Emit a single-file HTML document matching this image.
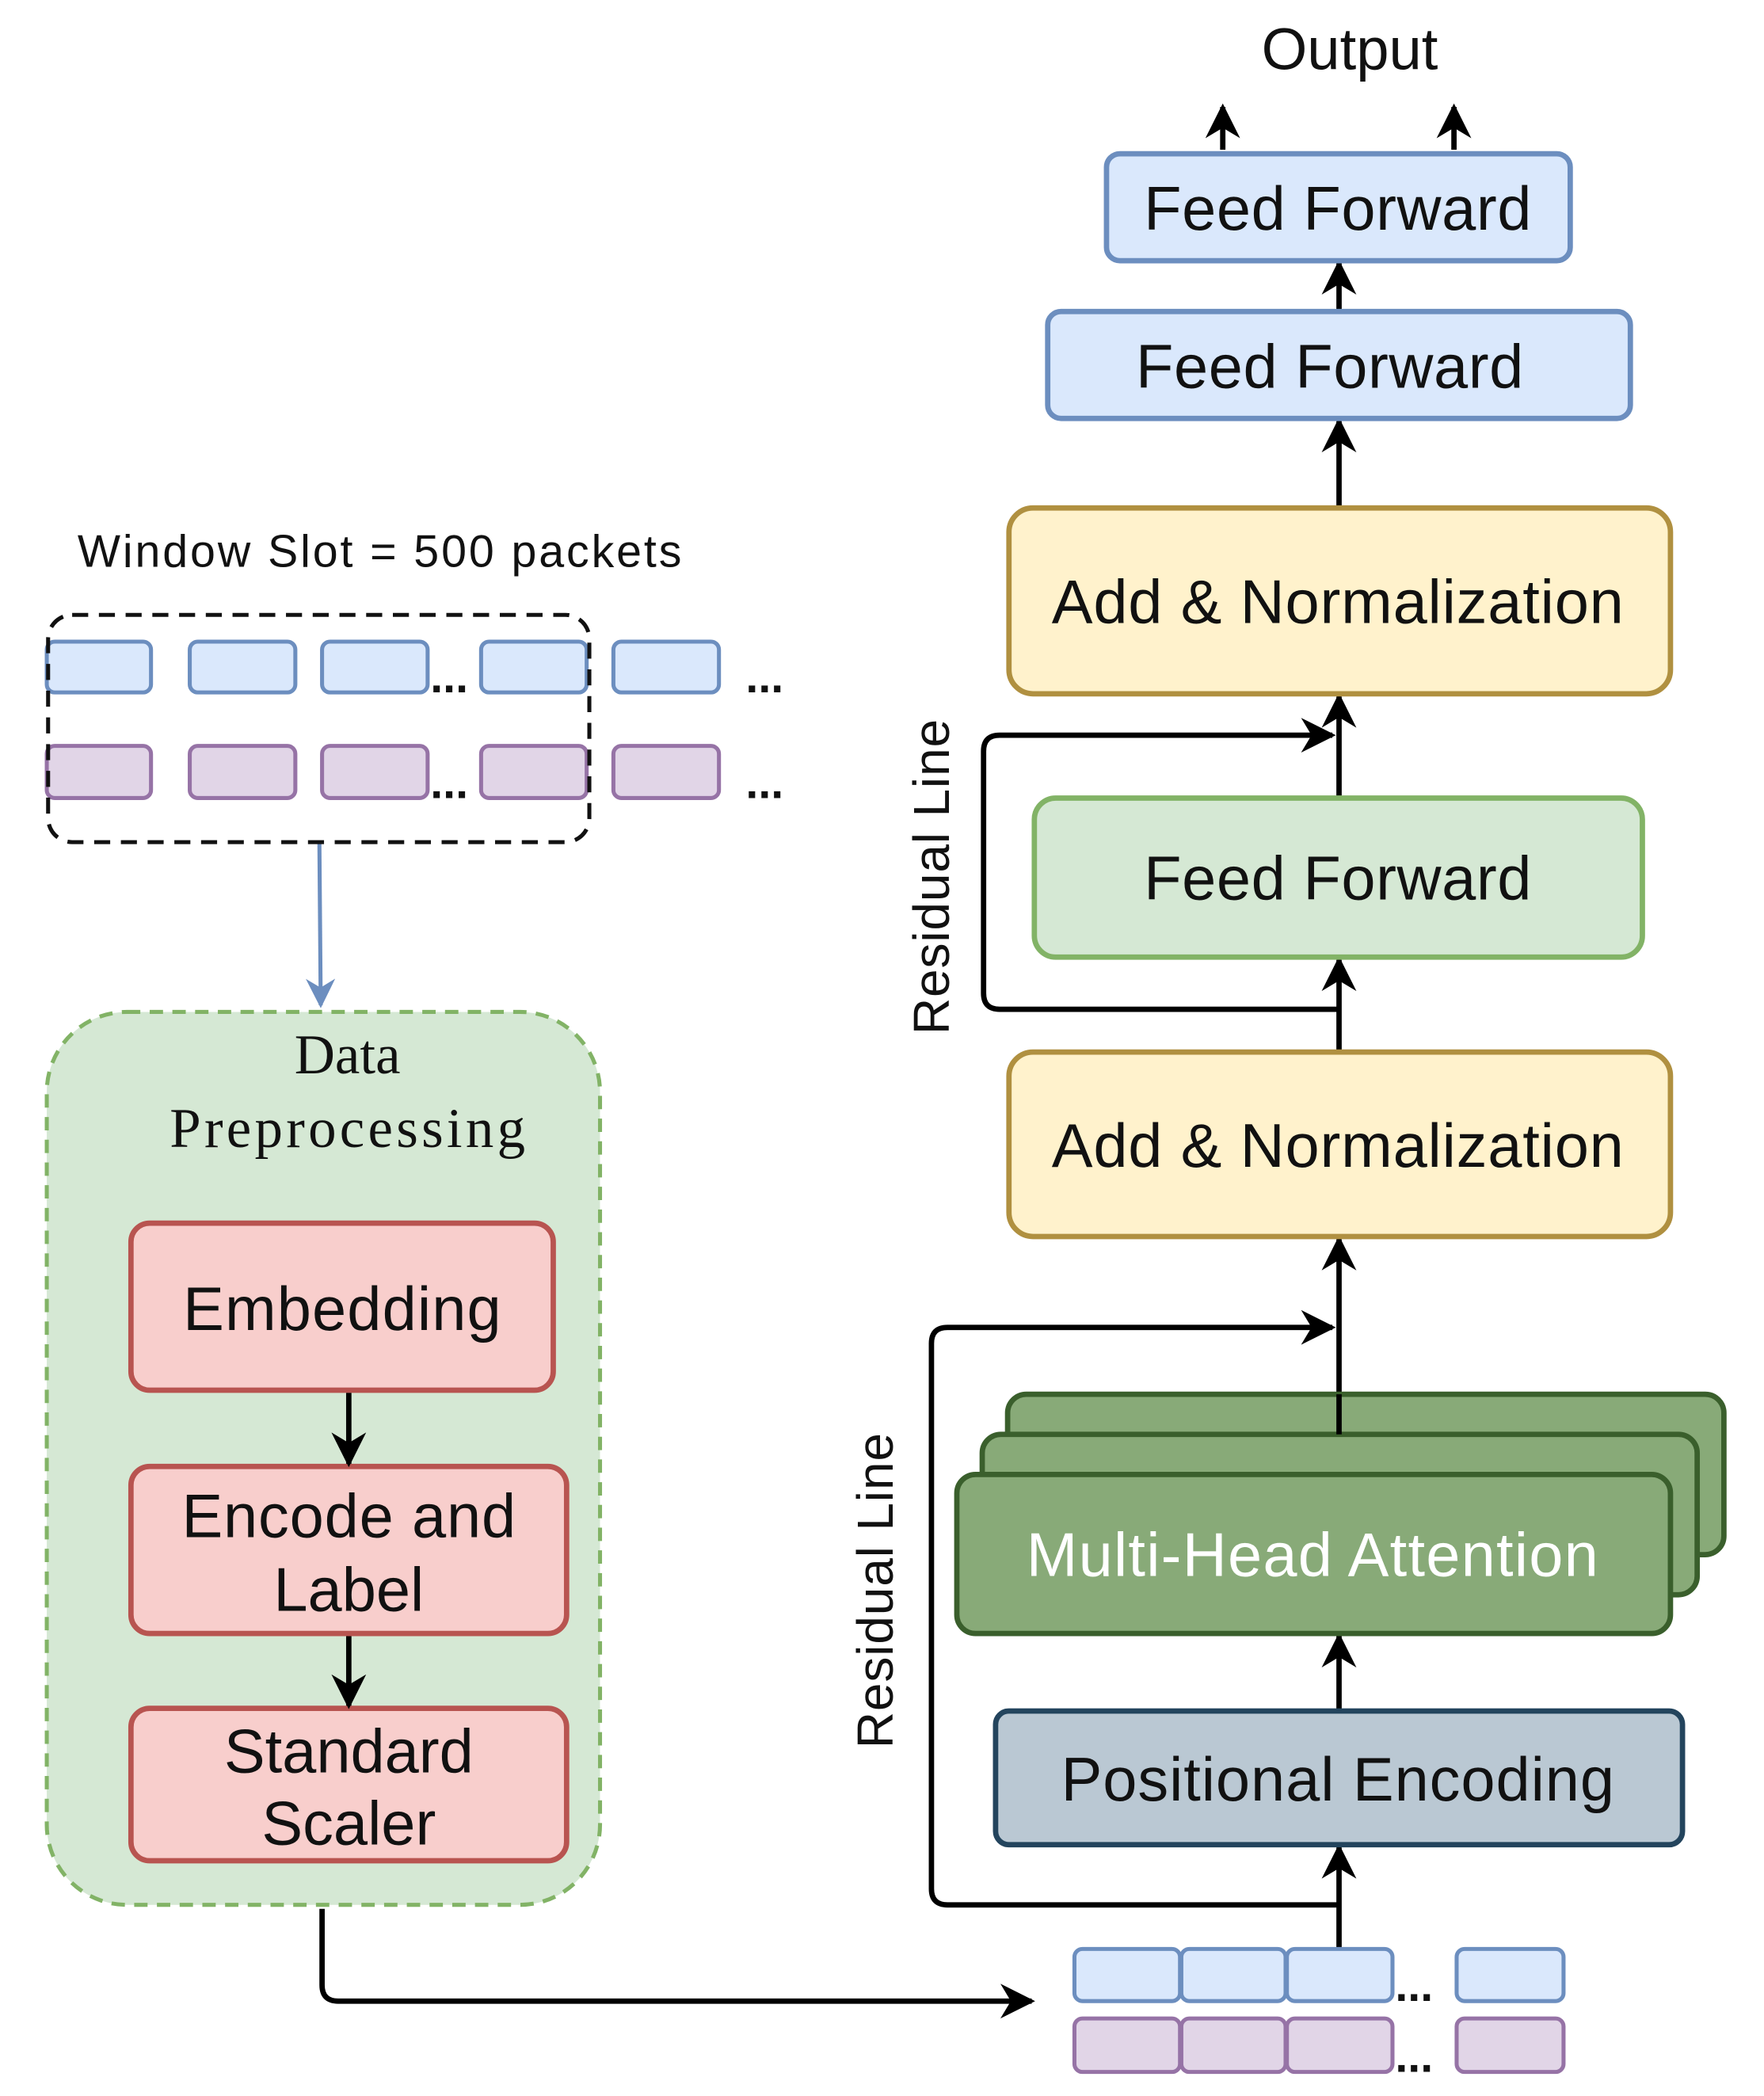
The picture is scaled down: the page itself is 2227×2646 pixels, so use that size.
<!DOCTYPE html>
<html><head><meta charset="utf-8"><style>html,body{margin:0;padding:0;background:#fff}svg{display:block}</style></head><body>
<svg width="2227" height="2646" viewBox="0 0 1320 1568" preserveAspectRatio="none" xmlns="http://www.w3.org/2000/svg" font-family="Liberation Sans, Arial, sans-serif">
<defs>
<marker id="ahL" viewBox="0 0 10 10" refX="9" refY="5" markerWidth="26" markerHeight="26" markerUnits="userSpaceOnUse" orient="auto"><path d="M0,0 L10,5 L0,10 L3,5 Z" fill="#000"/></marker>
<marker id="ahB" viewBox="0 0 10 10" refX="9" refY="5" markerWidth="22" markerHeight="22" markerUnits="userSpaceOnUse" orient="auto"><path d="M0,0 L10,5 L0,10 L3,5 Z" fill="#6c8ebf"/></marker>
</defs>
<g stroke="#000" stroke-width="4" fill="none">
<line x1="915" y1="112" x2="915" y2="80" marker-end="url(#ahL)"/>
<line x1="1088" y1="112" x2="1088" y2="80" marker-end="url(#ahL)"/>
<line x1="1002" y1="233" x2="1002" y2="197" marker-end="url(#ahL)"/>
<line x1="1002" y1="380" x2="1002" y2="315" marker-end="url(#ahL)"/>
<line x1="1002" y1="597" x2="1002" y2="521" marker-end="url(#ahL)"/>
<line x1="1002" y1="787" x2="1002" y2="718" marker-end="url(#ahL)"/>
<path d="M1002,755 L748,755 Q736,755 736,743 L736,562 Q736,550 748,550 L997,550" marker-end="url(#ahL)"/>
<line x1="1002" y1="1073" x2="1002" y2="927" marker-end="url(#ahL)"/>
<path d="M1002,1425 L709,1425 Q697,1425 697,1413 L697,1005 Q697,993 709,993 L997,993" marker-end="url(#ahL)"/>
<line x1="1002" y1="1280" x2="1002" y2="1224" marker-end="url(#ahL)"/>
<line x1="1002" y1="1458" x2="1002" y2="1382" marker-end="url(#ahL)"/>
<path d="M241,1428 L241,1485 Q241,1497 253,1497 L772,1497" marker-end="url(#ahL)"/>
</g>
<line x1="239" y1="630" x2="240" y2="752" stroke="#6c8ebf" stroke-width="3" marker-end="url(#ahB)"/>

<text x="1010" y="52" font-size="44" text-anchor="middle" fill="#111">Output</text>

<rect x="828" y="115" width="347" height="80" rx="10" fill="#dae8fc" stroke="#6c8ebf" stroke-width="4"/>
<text x="1001" y="172" font-size="46" text-anchor="middle" fill="#111" textLength="290">Feed Forward</text>
<rect x="784" y="233" width="436" height="80" rx="10" fill="#dae8fc" stroke="#6c8ebf" stroke-width="4"/>
<text x="995" y="290" font-size="46" text-anchor="middle" fill="#111" textLength="290">Feed Forward</text>

<rect x="755" y="380" width="495" height="139" rx="18" fill="#fff2cc" stroke="#b09040" stroke-width="4"/>
<text x="1001" y="466" font-size="46" text-anchor="middle" fill="#111" textLength="428">Add &amp; Normalization</text>

<rect x="774" y="597" width="455" height="119" rx="16" fill="#d5e8d4" stroke="#82b366" stroke-width="4"/>
<text x="1001" y="673" font-size="46" text-anchor="middle" fill="#111" textLength="290">Feed Forward</text>

<rect x="755" y="787" width="495" height="138" rx="18" fill="#fff2cc" stroke="#b09040" stroke-width="4"/>
<text x="1001" y="873" font-size="46" text-anchor="middle" fill="#111" textLength="428">Add &amp; Normalization</text>

<text transform="translate(710,656) rotate(-90)" font-size="38" text-anchor="middle" fill="#111" textLength="236">Residual Line</text>
<text transform="translate(668,1190) rotate(-90)" font-size="38" text-anchor="middle" fill="#111" textLength="236">Residual Line</text>

<rect x="754" y="1043" width="536" height="120" rx="14" fill="#88aa78" stroke="#3a5f2c" stroke-width="4"/>
<rect x="735" y="1073" width="535" height="120" rx="14" fill="#88aa78" stroke="#3a5f2c" stroke-width="4"/>
<rect x="716" y="1103" width="534" height="119" rx="14" fill="#88aa78" stroke="#3a5f2c" stroke-width="4"/>
<line x1="1002" y1="1043" x2="1002" y2="1073" stroke="#000" stroke-width="4"/>
<text x="982" y="1179" font-size="46" text-anchor="middle" fill="#fff" textLength="428">Multi-Head Attention</text>

<rect x="745" y="1280" width="514" height="100" rx="10" fill="#bac8d3" stroke="#23445d" stroke-width="4"/>
<text x="1001" y="1347" font-size="46" text-anchor="middle" fill="#111" textLength="414">Positional Encoding</text>

<g stroke-width="3">
<rect x="804" y="1458" width="79" height="39" rx="6" fill="#dae8fc" stroke="#6c8ebf"/>
<rect x="884" y="1458" width="78" height="39" rx="6" fill="#dae8fc" stroke="#6c8ebf"/>
<rect x="963" y="1458" width="79" height="39" rx="6" fill="#dae8fc" stroke="#6c8ebf"/>
<rect x="1090" y="1458" width="80" height="39" rx="6" fill="#dae8fc" stroke="#6c8ebf"/>
<rect x="804" y="1510" width="79" height="40" rx="6" fill="#e1d5e7" stroke="#9673a6"/>
<rect x="884" y="1510" width="78" height="40" rx="6" fill="#e1d5e7" stroke="#9673a6"/>
<rect x="963" y="1510" width="79" height="40" rx="6" fill="#e1d5e7" stroke="#9673a6"/>
<rect x="1090" y="1510" width="80" height="40" rx="6" fill="#e1d5e7" stroke="#9673a6"/>
</g>
<text x="1044" y="1497" font-size="34" font-weight="bold" fill="#111">...</text>
<text x="1044" y="1550" font-size="34" font-weight="bold" fill="#111">...</text>

<text x="58" y="424" font-size="34" fill="#111" textLength="452">Window Slot = 500 packets</text>
<g stroke-width="3">
<rect x="35" y="480" width="78" height="38" rx="6" fill="#dae8fc" stroke="#6c8ebf"/>
<rect x="142" y="480" width="79" height="38" rx="6" fill="#dae8fc" stroke="#6c8ebf"/>
<rect x="241" y="480" width="79" height="38" rx="6" fill="#dae8fc" stroke="#6c8ebf"/>
<rect x="360" y="480" width="79" height="38" rx="6" fill="#dae8fc" stroke="#6c8ebf"/>
<rect x="459" y="480" width="79" height="38" rx="6" fill="#dae8fc" stroke="#6c8ebf"/>
<rect x="35" y="558" width="78" height="39" rx="6" fill="#e1d5e7" stroke="#9673a6"/>
<rect x="142" y="558" width="79" height="39" rx="6" fill="#e1d5e7" stroke="#9673a6"/>
<rect x="241" y="558" width="79" height="39" rx="6" fill="#e1d5e7" stroke="#9673a6"/>
<rect x="360" y="558" width="79" height="39" rx="6" fill="#e1d5e7" stroke="#9673a6"/>
<rect x="459" y="558" width="79" height="39" rx="6" fill="#e1d5e7" stroke="#9673a6"/>
</g>
<rect x="36" y="460" width="405" height="170" rx="18" fill="none" stroke="#111" stroke-width="3" stroke-dasharray="12,8"/>
<text x="322" y="518" font-size="34" font-weight="bold" fill="#111">...</text>
<text x="322" y="597" font-size="34" font-weight="bold" fill="#111">...</text>
<text x="558" y="518" font-size="34" font-weight="bold" fill="#111">...</text>
<text x="558" y="597" font-size="34" font-weight="bold" fill="#111">...</text>

<rect x="35" y="757" width="414" height="668" rx="60" fill="#d5e8d4" stroke="#82b366" stroke-width="3" stroke-dasharray="10,7"/>
<text x="260" y="803" font-size="42" text-anchor="middle" fill="#111" font-family="Liberation Serif, serif">Data</text>
<text x="260" y="858" font-size="42" text-anchor="middle" fill="#111" font-family="Liberation Serif, serif" textLength="266">Preprocessing</text>

<rect x="98" y="915" width="316" height="125" rx="14" fill="#f8cecc" stroke="#b85450" stroke-width="4"/>
<text x="256" y="995" font-size="46" text-anchor="middle" fill="#111" textLength="238">Embedding</text>
<rect x="98" y="1097" width="326" height="125" rx="14" fill="#f8cecc" stroke="#b85450" stroke-width="4"/>
<text x="261" y="1150" font-size="46" text-anchor="middle" fill="#111" textLength="250">Encode and</text>
<text x="261" y="1205" font-size="46" text-anchor="middle" fill="#111">Label</text>
<rect x="98" y="1278" width="326" height="114" rx="14" fill="#f8cecc" stroke="#b85450" stroke-width="4"/>
<text x="261" y="1326" font-size="46" text-anchor="middle" fill="#111">Standard</text>
<text x="261" y="1380" font-size="46" text-anchor="middle" fill="#111">Scaler</text>
<g stroke="#000" stroke-width="4" fill="none">
<line x1="261" y1="1042" x2="261" y2="1095" marker-end="url(#ahL)"/>
<line x1="261" y1="1224" x2="261" y2="1276" marker-end="url(#ahL)"/>
</g>
</svg>
</body></html>
